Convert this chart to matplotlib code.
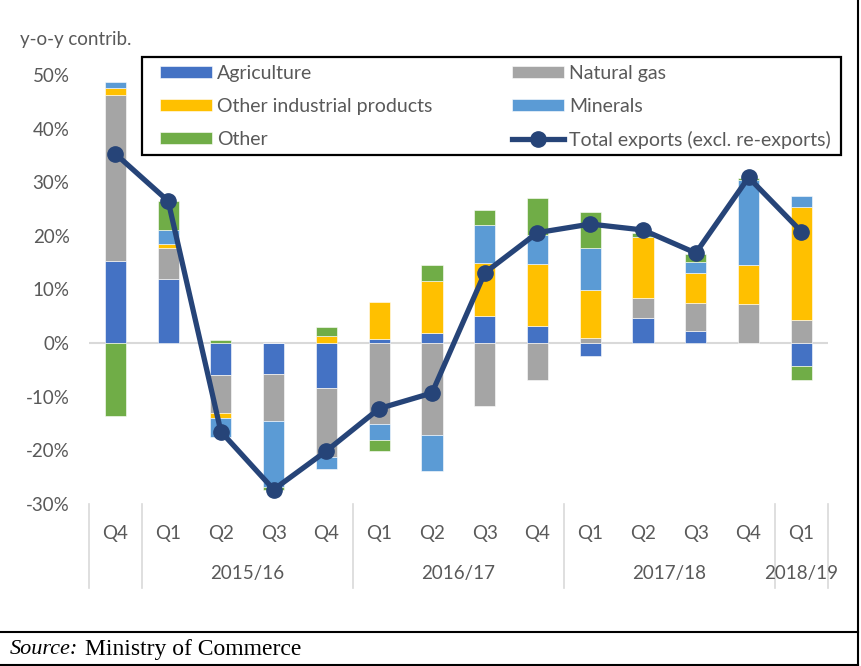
import matplotlib.pyplot as plt
import matplotlib.patches as mpatches
import numpy as np

# categories (quarters) and fiscal year groups
quarters = ["Q4", "Q1", "Q2", "Q3", "Q4", "Q1", "Q2", "Q3", "Q4", "Q1", "Q2", "Q3", "Q4", "Q1"]
years = ["2015/16", "2016/17", "2017/18", "2018/19"]
year_centers = [2.5, 6.5, 10.5, 13]
year_bounds = [-0.5, 0.5, 4.5, 8.5, 12.5, 13.5]

# contributions, percentage points
agriculture = [15.4, 12.0, -6.0, -5.8, -8.3, 0.8, 1.8, 5.0, 3.2, -2.4, 4.7, 2.3, 0.0, -4.3]
natural_gas = [30.8, 5.8, -7.1, -8.8, -12.9, -15.0, -17.2, -11.8, -6.8, 1.0, 3.8, 5.2, 7.3, 4.3]
other_ind = [1.3, 0.6, -0.8, 0.0, 1.4, 6.9, 9.8, 10.0, 11.6, 8.9, 11.2, 5.6, 7.3, 21.0]
minerals = [1.2, 2.7, -3.6, -12.2, -2.2, -3.1, -6.7, 7.0, 5.3, 7.8, 0.0, 2.1, 15.9, 2.1]
other = [-13.6, 5.4, 0.6, -0.6, 1.6, -2.0, 3.0, 2.8, 6.9, 6.7, 0.8, 1.5, 0.3, -2.6]
total = [35.3, 26.5, -16.5, -27.3, -20.1, -12.2, -9.3, 13.1, 20.6, 22.2, 21.1, 16.8, 30.9, 20.8]

series = [
    ("Agriculture", agriculture, "#4472C4"),
    ("Natural gas", natural_gas, "#A5A5A5"),
    ("Other industrial products", other_ind, "#FFC000"),
    ("Minerals", minerals, "#5B9BD5"),
    ("Other", other, "#70AD47"),
]

plt.rcParams['font.family'] = ['Lato', 'DejaVu Sans']
txt_col = "#595959"
fs = 13.5

fig = plt.figure(figsize=(8.62, 6.66), dpi=100)
ax = fig.add_axes([89 / 862, 1 - 504 / 666, (827.7 - 89) / 862, 429 / 666])

x = np.arange(len(quarters))
pos_base = np.zeros(len(x))
neg_base = np.zeros(len(x))
handles = {}
for name, vals, col in series:
    v = np.array(vals)
    bottoms = np.where(v >= 0, pos_base, neg_base)
    b = ax.bar(x, v, 0.4, bottom=bottoms, color=col, edgecolor="white", linewidth=0.4, label=name, zorder=2)
    handles[name] = b
    pos_base += np.where(v >= 0, v, 0)
    neg_base += np.where(v < 0, v, 0)

ax.axhline(0, color="#D9D9D9", linewidth=1.5, zorder=1)
ln, = ax.plot(x, total, color="#264478", linewidth=3.8, marker="o", markersize=11,
              label="Total exports (excl. re-exports)", zorder=3)

ax.set_xlim(-0.5, 13.5)
ax.set_ylim(-30, 50)
ax.set_yticks(range(-30, 51, 10))
ax.set_yticklabels([f"{t}%" for t in range(-30, 51, 10)], fontsize=fs, color=txt_col)
ax.tick_params(axis="y", length=0, pad=14)
ax.set_xticks([])
for s in ax.spines.values():
    s.set_visible(False)

# category axis labels
trans = ax.get_xaxis_transform()
for i, q in enumerate(quarters):
    ax.text(i, -0.068, q, transform=trans, ha="center", va="center", fontsize=fs, color=txt_col)
for yc, yl in zip(year_centers, years):
    ax.text(yc, -0.161, yl, transform=trans, ha="center", va="center", fontsize=fs, color=txt_col)
for xb in year_bounds:
    ax.plot([xb, xb], [0, -0.196], transform=trans, color="#D9D9D9", linewidth=1.2, clip_on=False)

fig.text(20 / 862, 1 - 40 / 666, "y-o-y contrib.", fontsize=fs, color=txt_col, va="center", ha="left")

# legend: box drawn separately so the padding can match
order = ["Agriculture", "Other industrial products", "Other", "Natural gas", "Minerals"]
leg = fig.legend([handles[n] for n in order] + [ln], order + ["Total exports (excl. re-exports)"],
                 loc="upper left", ncol=2, bbox_to_anchor=(160 / 862, 1 - 65 / 666),
                 bbox_transform=fig.transFigure, frameon=False,
                 fontsize=14, handlelength=2.67, handleheight=0.6, labelspacing=0.82,
                 handletextpad=0.27, columnspacing=4.1, borderpad=0, borderaxespad=0,
                 labelcolor=txt_col)
fig.add_artist(mpatches.Rectangle((142 / 862, 1 - 155 / 666), (841 - 142) / 862, (155 - 57) / 666,
                                  transform=fig.transFigure, fill=False, edgecolor="black", linewidth=1.6))

# outer frame and source line
fig.add_artist(plt.Line2D([858 / 862, 858 / 862], [0, 1], color="black", linewidth=1.5, transform=fig.transFigure))
fig.add_artist(plt.Line2D([0, 858 / 862], [1 - 632 / 666, 1 - 632 / 666], color="black", linewidth=1.5, transform=fig.transFigure))
fig.add_artist(plt.Line2D([0, 858 / 862], [1 - 665 / 666, 1 - 665 / 666], color="black", linewidth=1.5, transform=fig.transFigure))
fig.text(10 / 862, 1 - 650 / 666, "Source:", fontsize=16, style="italic", family="Liberation Serif", va="center")
fig.text(85 / 862, 1 - 650 / 666, "Ministry of Commerce", fontsize=17, family="Liberation Serif", va="center")

fig.savefig("out.png", dpi=100)
